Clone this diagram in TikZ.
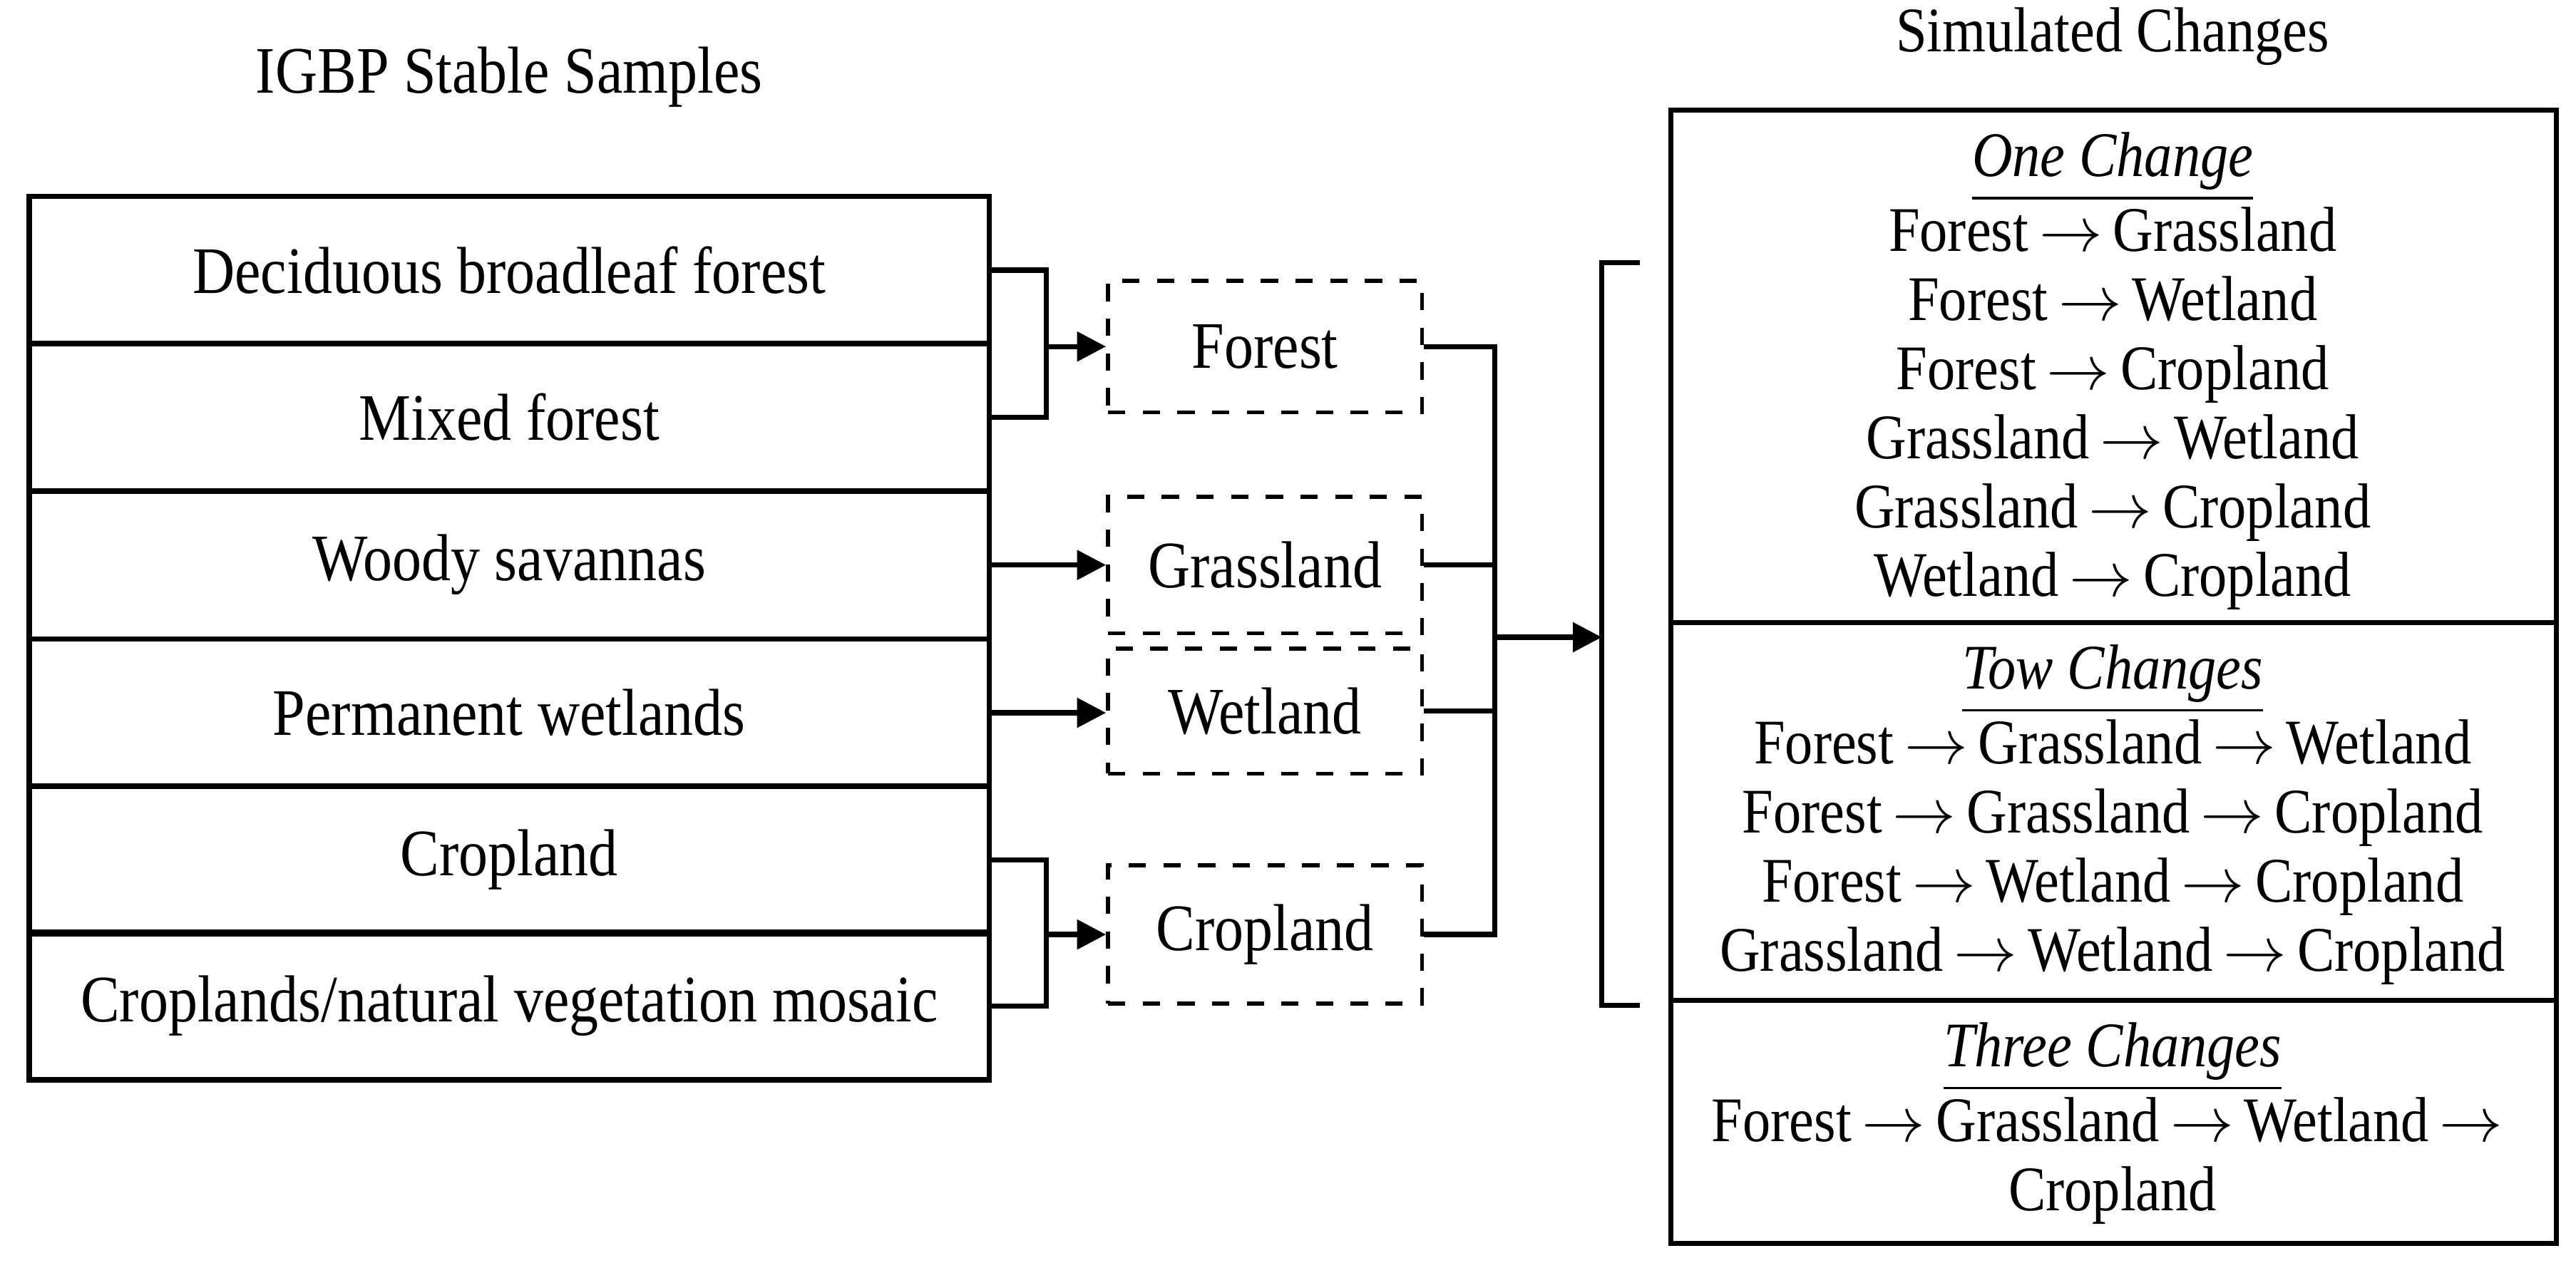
\documentclass[tikz,border=0pt]{standalone}
\usepackage{fontspec}
\setmainfont{Liberation Serif}[FakeStretch=0.88]
\usetikzlibrary{arrows.meta}
\newcommand{\ra}{\,$\rightarrow$\,}
\newcommand{\ttl}[1]{\textit{#1}\\[-13.5pt]\rule{\widthof{\textit{#1}}}{0.6pt}\\[-3pt]}
\begin{document}
\begin{tikzpicture}[x=0.01cm,y=-0.01cm,
  cell/.style={draw,line width=0.9pt,minimum width=5.84cm,minimum height=0.9cm,inner sep=0pt,font=\fontsize{11.5}{13}\selectfont},
  cls/.style={draw,dashed,line width=0.7pt,minimum width=1.91cm,inner sep=0pt,font=\fontsize{11.5}{13}\selectfont},
  ln/.style={line width=0.9pt},
  arr/.style={ln,-{Triangle[length=5pt,width=5pt]}},
  txt/.style={font=\fontsize{11}{11.95}\selectfont,align=center}]
\useasboundingbox (0,0) rectangle (1568,775);
\node[font=\fontsize{11.5}{13}\selectfont] (t1) at (310,47) {IGBP Stable Samples};
\node[font=\fontsize{11}{13}\selectfont] (t2) at (1286,22) {Simulated Changes};
% left table
\node[cell] (r1) at (310,164.5) {Deciduous broadleaf forest};
\node[cell] (r2) at (310,254) {Mixed forest};
\node[cell] (r3) at (310,344) {Woody savannas};
\node[cell] (r4) at (310,434) {Permanent wetlands};
\node[cell] (r5) at (310,523.5) {Cropland};
\node[cell] (r6) at (310,612.5) {Croplands/natural vegetation mosaic};
% classes
\node[cls,minimum height=0.8cm] (f) at (770,211) {Forest};
\node[cls,minimum height=0.83cm] (g) at (770,344) {Grassland};
\node[cls,minimum height=0.76cm] (w) at (770,433) {Wetland};
\node[cls,minimum height=0.84cm] (c) at (770,569) {Cropland};
% left connectors
\coordinate (b1) at (637,211);
\coordinate (b2) at (637,569);
\draw[ln] (r1.east) -| (b1) |- (r2.east);
\draw[arr] (b1) -- (f.west);
\draw[ln] (r5.east) -| (b2) |- (r6.east);
\draw[arr] (b2) -- (c.west);
\draw[arr] (r3.east) -- (r3.east -| g.west);
\draw[arr] (r4.east) -- (r4.east -| w.west);
% right connectors
\coordinate (m) at (910,388);
\coordinate (mt) at (910,211);
\coordinate (mb) at (910,569);
\draw[ln] (f.east) -- (mt) -- (mb) -- (c.east);
\draw[ln] (g.east) -- (g.east -| m);
\draw[ln] (w.east) -- (w.east -| m);
\coordinate (k) at (975,388);
\draw[arr] (m) -- (k);
\coordinate (kt) at (975,160);
\coordinate (kb) at (975,612);
\draw[ln] (998,160) -- (kt) -- (kb) -- (998,612);
% right table
\draw[ln] (1017,67) rectangle (1556,757);
\draw[ln] (1017,379) -- (1556,379);
\draw[ln] (1017,609) -- (1556,609);
\node[txt] (s1) at (1286,226) {\textit{\underline{One Change}}\\Forest\ra Grassland\\Forest\ra Wetland\\Forest\ra Cropland\\Grassland\ra Wetland\\Grassland\ra Cropland\\Wetland\ra Cropland};
\node[txt] (s2) at (1286,496) {\textit{\underline{Tow Changes}}\\Forest\ra Grassland\ra Wetland\\Forest\ra Grassland\ra Cropland\\Forest\ra Wetland\ra Cropland\\Grassland\ra Wetland\ra Cropland};
\node[txt] (s3) at (1286,684) {\textit{\underline{Three Changes}}\\Forest\ra Grassland\ra Wetland\ra\\Cropland};
\end{tikzpicture}
\end{document}
